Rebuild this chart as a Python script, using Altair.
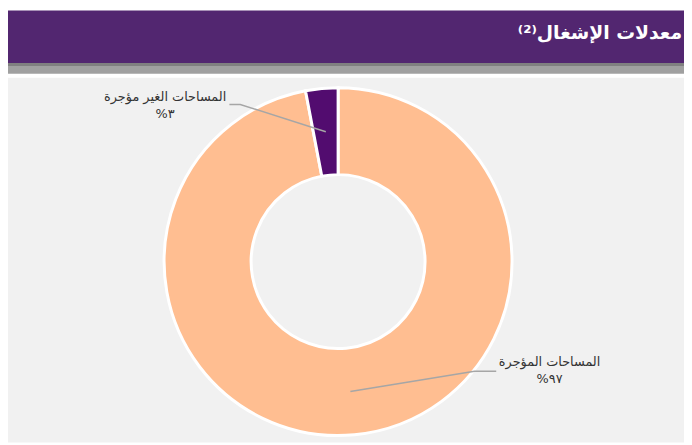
import altair as alt
import pandas as pd
import numpy as np

# ---- data ----
categories = ["المساحات المؤجرة", "المساحات الغير مؤجرة"]
values = [97, 3]
pct_labels = ["%٩٧", "%٣"]
slice_colors = ["#FFBE91", "#520C6F"]
title_text = "معدلات الإشغال\u207D\u00B2\u207E\u200F"

# ---- layout ----
W, H = 684, 437
CX, CY = 334, 254
R_IN, R_OUT = 88, 176
label_x = [548, 159]
label_y = [356, 88]
leader_elbow = [(472, 365), (235, 95)]
leader_end = [(494, 365), (224, 95)]

df = pd.DataFrame({"cat": categories, "value": values, "order": [0, 1]})

# leader lines: inner point derived from each slice's mid angle
total = float(sum(values))
cum = np.cumsum([0] + values)
mid = (cum[:-1] + cum[1:]) / 2 / total * 2 * np.pi
r_mid = (R_IN + R_OUT) / 2
rows = []
for i, c in enumerate(categories):
    px = CX + r_mid * np.sin(mid[i])
    py = CY - r_mid * np.cos(mid[i])
    pts = [(px, py), leader_elbow[i], leader_end[i]]
    for k, (x, y) in enumerate(pts):
        rows.append({"cat": c, "k": k, "x": float(x), "y": float(y)})
lead_df = pd.DataFrame(rows)

lab_df = pd.DataFrame({"cat": categories, "pct": pct_labels, "x": label_x, "y": label_y})

one = alt.Data(values=[{}])

def band(y1, y2, color, x1=0, x2=W):
    return alt.Chart(one).mark_rect(color=color).encode(
        x=alt.value(x1), x2=alt.value(x2), y=alt.value(y1), y2=alt.value(y2)
    )

header = band(0, 53, "#522670")
stripe1 = band(53, 56, "#808080")
stripe2 = band(56, 64, "#A0A0A0")
panel = band(68, H, "#F1F1F1")

title = alt.Chart(one).mark_text(
    text=title_text, align="right", baseline="middle", fontSize=19,
    fontWeight="bold", color="white", font="DejaVu Sans"
).encode(x=alt.value(682), y=alt.value(23))

arcs = alt.Chart(df).mark_arc(
    innerRadius=R_IN, outerRadius=R_OUT, stroke="white", strokeWidth=3
).encode(
    theta=alt.Theta("value:Q", stack=True),
    order=alt.Order("order:Q"),
    color=alt.Color("cat:N", scale=alt.Scale(domain=categories, range=slice_colors), legend=None),
    x=alt.value(CX), y=alt.value(CY),
)

leaders = alt.Chart(lead_df).mark_line(color="#A6A6A6", strokeWidth=1.5).encode(
    x=alt.X("x:Q", scale=None), y=alt.Y("y:Q", scale=None),
    detail="cat:N", order="k:Q",
)

names = alt.Chart(lab_df).mark_text(
    fontSize=13, color="#333333", baseline="middle", align="center", font="DejaVu Sans"
).encode(x=alt.X("x:Q", scale=None), y=alt.Y("y:Q", scale=None), text="cat:N")

pcts = alt.Chart(lab_df).mark_text(
    fontSize=13, color="#333333", baseline="middle", align="center", dy=17, font="DejaVu Sans"
).encode(x=alt.X("x:Q", scale=None), y=alt.Y("y:Q", scale=None), text="pct:N")

chart = alt.layer(header, stripe1, stripe2, panel, title, arcs, leaders, names, pcts).properties(
    width=W, height=H, padding=0, autosize=alt.AutoSizeParams(type="none"),
    background="white",
).configure_view(stroke=None)

chart.save("out.html", embed_options={"renderer": "svg", "actions": False})
